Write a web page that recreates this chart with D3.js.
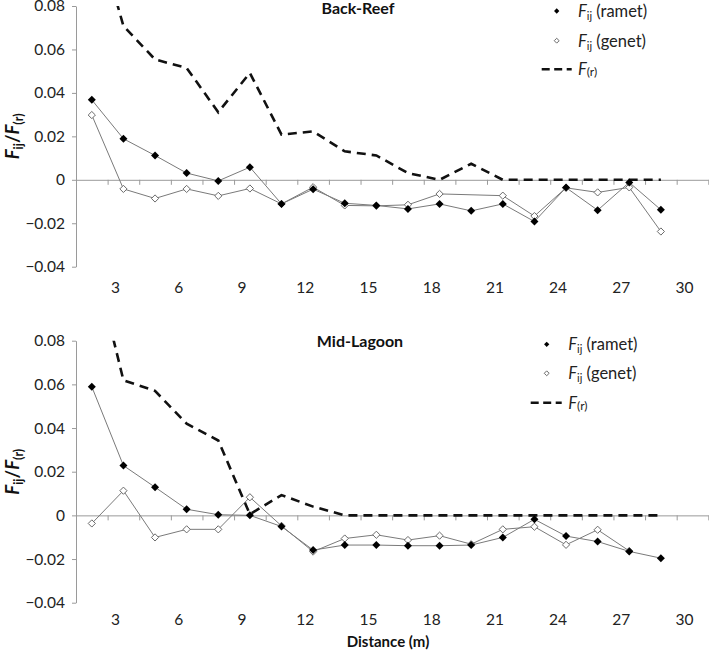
<!DOCTYPE html>
<html><head><meta charset="utf-8">
<script src="https://cdn.jsdelivr.net/npm/d3@7"></script>
<style>body{margin:0;background:#fff;} svg{display:block;font-family:Lato, "Open Sans", sans-serif;}</style>
</head><body>
<svg id="chart" width="709" height="650"></svg>
<script>
// ---- data ----
const distances = [1.9, 3.4, 4.9, 6.4, 7.9, 9.4, 10.9, 12.4, 13.9, 15.4, 16.9, 18.4, 19.9, 21.4, 22.9, 24.4, 25.9, 27.4, 28.9];
const xTickLabels = [3, 6, 9, 12, 15, 18, 21, 24, 27, 30];
const yTickValues = [-0.04, -0.02, 0, 0.02, 0.04, 0.06, 0.08];

const backReefRamet = [0.0368, 0.0189, 0.0112, 0.0031, -0.0005, 0.0058, -0.0111, -0.0043, -0.0108, -0.0118, -0.0134, -0.0111, -0.0143, -0.0111, -0.0192, -0.0036, -0.0140, -0.0012, -0.0138];
const backReefGenet = [0.0298, -0.0042, -0.0086, -0.0042, -0.0074, -0.0040, -0.0111, -0.0034, -0.0118, -0.0120, -0.0115, -0.0065, null, -0.0073, -0.0167, -0.0037, -0.0058, -0.0035, -0.0238];
const backReefFr = [0.122, 0.0708, 0.0554, 0.0515, 0.0311, 0.0492, 0.0208, 0.0223, 0.0131, 0.0112, 0.0031, 0, 0.0074, 0, 0, 0, 0, 0, 0];

const midLagoonRamet = [0.0589, 0.0228, 0.0129, 0.0028, 0.0003, 0.0000, -0.0051, -0.0159, -0.0136, -0.0136, -0.0139, -0.0139, -0.0136, -0.0101, -0.0018, -0.0095, -0.0120, -0.0165, -0.0196];
const midLagoonGenet = [-0.0037, 0.0113, -0.0101, -0.0064, -0.0064, 0.0083, -0.0048, -0.0166, -0.0106, -0.0089, -0.0113, -0.0093, -0.0132, -0.0064, -0.0052, -0.0135, -0.0066, -0.0163, null];
const midLagoonFr = [0.121, 0.0619, 0.0570, 0.0420, 0.0343, 0.0005, 0.0093, 0.0040, 0, 0, 0, 0, 0, 0, 0, 0, 0, 0, 0];

const panels = [
  {id: "br", title: "Back-Reef", ramet: backReefRamet, genet: backReefGenet, fr: backReefFr,
   top: 6, bottom: 266.7, labelY: 281.6, titleX: 358, titleY: 14,
   legMarkX: 556.7, legTextX: 578, legDash: [541.7, 571.7], legY: [11, 40.7, 69.3]},
  {id: "ml", title: "Mid-Lagoon", ramet: midLagoonRamet, genet: midLagoonGenet, fr: midLagoonFr,
   top: 340.7, bottom: 602.7, labelY: 614, titleX: 360, titleY: 346.5,
   legMarkX: 546.7, legTextX: 568.3, legDash: [530.7, 561.7], legY: [344.3, 373.3, 402.7]}
];

const svg = d3.select("#chart");
const x = d3.scaleLinear().domain([1.15, 31.15]).range([76, 708.3]);
const axisColor = "#9a9a9a";
const lineColor = "#7a7a7a";

const diamond = {draw(ctx, size) { const r = Math.sqrt(size / 2); ctx.moveTo(0, -r); ctx.lineTo(r, 0); ctx.lineTo(0, r); ctx.lineTo(-r, 0); ctx.closePath(); }};
const minorTicks = distances.map(d => d + 0.75).concat([x.domain()[1]]);

panels.forEach(p => {
  const y = d3.scaleLinear().domain([-0.04, 0.08]).range([p.bottom, p.top]);
  const g = svg.append("g");

  g.append("clipPath").attr("id", "clip-" + p.id).append("rect")
    .attr("x", x.range()[0]).attr("y", p.top).attr("width", x.range()[1] - x.range()[0]).attr("height", p.bottom - p.top);

  // y axis
  const yAxis = d3.axisLeft(y).tickValues(yTickValues).tickSize(4).tickSizeOuter(0).tickPadding(7)
    .tickFormat(v => v === 0 ? "0" : d3.format(".2f")(v));
  const ya = g.append("g").attr("transform", `translate(${x.range()[0]},0)`).call(yAxis);
  ya.select(".domain").attr("stroke", axisColor);
  ya.selectAll(".tick line").attr("stroke", axisColor);
  ya.selectAll(".tick text").attr("font-size", 15.5).attr("fill", "#222").attr("font-family", "Lato, sans-serif");

  // zero axis with category tick marks
  const xMinor = d3.axisBottom(x).tickValues(minorTicks).tickSize(5).tickSizeOuter(0).tickFormat("");
  const xa = g.append("g").attr("transform", `translate(0,${y(0)})`).call(xMinor);
  xa.select(".domain").attr("stroke", axisColor);
  xa.selectAll(".tick line").attr("stroke", axisColor);

  // x labels
  const xLab = d3.axisBottom(x).tickValues(xTickLabels).tickSize(0).tickPadding(0).tickFormat(d3.format("d"));
  const xl = g.append("g").attr("transform", `translate(0,${p.labelY})`).call(xLab);
  xl.select(".domain").remove();
  xl.selectAll(".tick text").attr("font-size", 15.5).attr("fill", "#222").attr("font-family", "Lato, sans-serif");

  // F(r) dashed
  const frPts = distances.map((d, i) => [d, p.fr[i]]);
  g.append("path").attr("clip-path", `url(#clip-${p.id})`)
    .attr("d", d3.line().x(d => x(d[0])).y(d => y(d[1]))(frPts))
    .attr("fill", "none").attr("stroke", "#111").attr("stroke-width", 2.6).attr("stroke-dasharray", "9,6");

  // genet
  const genPts = distances.map((d, i) => [d, p.genet[i]]).filter(d => d[1] != null);
  g.append("path").attr("d", d3.line().x(d => x(d[0])).y(d => y(d[1]))(genPts))
    .attr("fill", "none").attr("stroke", lineColor).attr("stroke-width", 1);
  // ramet
  const ramPts = distances.map((d, i) => [d, p.ramet[i]]).filter(d => d[1] != null);
  g.append("path").attr("d", d3.line().x(d => x(d[0])).y(d => y(d[1]))(ramPts))
    .attr("fill", "none").attr("stroke", lineColor).attr("stroke-width", 1);

  g.selectAll(".gm").data(genPts).join("path").attr("class", "gm")
    .attr("transform", d => `translate(${x(d[0])},${y(d[1])})`)
    .attr("d", d3.symbol(diamond, 26)())
    .attr("fill", "#fff").attr("stroke", "#6a6a6a").attr("stroke-width", 1);
  g.selectAll(".rm").data(ramPts).join("path").attr("class", "rm")
    .attr("transform", d => `translate(${x(d[0])},${y(d[1])})`)
    .attr("d", d3.symbol(diamond, 32)())
    .attr("fill", "#000");

  // title
  g.append("text").attr("x", p.titleX).attr("y", p.titleY).attr("text-anchor", "middle")
    .attr("font-size", 16).attr("font-weight", "bold").attr("fill", "#111").text(p.title);

  // legend
  g.append("path").attr("transform", `translate(${p.legMarkX},${p.legY[0]})`).attr("d", d3.symbol(diamond, 14)()).attr("fill", "#000");
  g.append("path").attr("transform", `translate(${p.legMarkX},${p.legY[1]})`).attr("d", d3.symbol(diamond, 12)())
    .attr("fill", "#fff").attr("stroke", "#6a6a6a").attr("stroke-width", 1);
  g.append("line").attr("x1", p.legDash[0]).attr("x2", p.legDash[1]).attr("y1", p.legY[2]).attr("y2", p.legY[2])
    .attr("stroke", "#111").attr("stroke-width", 2.6).attr("stroke-dasharray", "8,4.5");
  const legLabels = [" (ramet)", " (genet)"];
  legLabels.forEach((lab, i) => {
    const t = g.append("text").attr("x", p.legTextX).attr("y", p.legY[i] + 6).attr("font-size", 16.5).attr("fill", "#222");
    t.append("tspan").attr("font-style", "italic").text("F");
    t.append("tspan").attr("font-size", 11).attr("dy", 3).text("ij");
    t.append("tspan").attr("dy", -3).text(lab);
  });
  const t3 = g.append("text").attr("x", p.legTextX).attr("y", p.legY[2] + 6).attr("font-size", 16.5).attr("fill", "#222");
  t3.append("tspan").attr("font-style", "italic").text("F");
  t3.append("tspan").attr("font-size", 12).attr("dy", 1).text("(r)");

  // y title
  const cy = (p.top + p.bottom) / 2;
  const yt = g.append("text").attr("transform", `translate(19,${cy}) rotate(-90)`).attr("text-anchor", "middle")
    .attr("font-size", 18.5).attr("font-weight", "bold").attr("fill", "#111");
  yt.append("tspan").attr("font-style", "italic").text("F");
  yt.append("tspan").attr("font-size", 12.5).attr("dy", 4).text("ij");
  yt.append("tspan").attr("dy", -4).text("/");
  yt.append("tspan").attr("font-style", "italic").text("F");
  yt.append("tspan").attr("font-size", 12.5).attr("dy", 4).text("(r)");
});

svg.append("text").attr("x", 388).attr("y", 647).attr("text-anchor", "middle")
  .attr("font-size", 15).attr("font-weight", "bold").attr("fill", "#111").text("Distance (m)");
</script>
</body></html>
